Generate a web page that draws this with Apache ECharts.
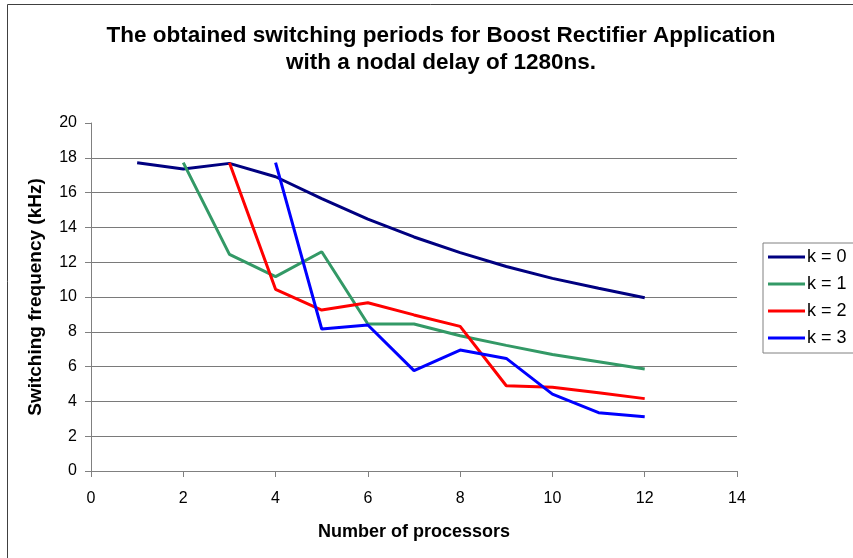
<!DOCTYPE html>
<html>
<head>
<meta charset="utf-8">
<script src="https://cdn.jsdelivr.net/npm/echarts@6/dist/echarts.min.js"></script>
<style>
  html, body { margin: 0; padding: 0; background: #fff; }
  #chart { width: 853px; height: 558px; }
</style>
</head>
<body>
<div id="chart"></div>
<script>
// Number of processors for each series
const procK0 = [1, 2, 3, 4, 5, 6, 7, 8, 9, 10, 11, 12];
const procK1 = [2, 3, 4, 5, 6, 7, 8, 9, 10, 11, 12];
const procK2 = [3, 4, 5, 6, 7, 8, 9, 10, 11, 12];
const procK3 = [4, 5, 6, 7, 8, 9, 10, 11, 12];

// Switching frequency (kHz)
const freqK0 = [17.72, 17.36, 17.68, 16.91, 15.65, 14.47, 13.45, 12.55, 11.75, 11.07, 10.5, 9.96];
const freqK1 = [17.72, 12.45, 11.17, 12.6, 8.45, 8.45, 7.77, 7.22, 6.7, 6.28, 5.86];
const freqK2 = [17.72, 10.44, 9.25, 9.67, 8.97, 8.31, 4.9, 4.81, 4.5, 4.16];
const freqK3 = [17.72, 8.16, 8.39, 5.77, 6.95, 6.47, 4.42, 3.35, 3.12];

const seriesNames = ['k = 0', 'k = 1', 'k = 2', 'k = 3'];
const seriesColors = ['#000080', '#339966', '#ff0000', '#0000ff'];

const xTicks = [0, 2, 4, 6, 8, 10, 12, 14];
const yTicks = [0, 2, 4, 6, 8, 10, 12, 14, 16, 18, 20];

const pairs = (xs, ys) => xs.map((x, i) => [x, ys[i]]);
const seriesData = [
  pairs(procK0, freqK0),
  pairs(procK1, freqK1),
  pairs(procK2, freqK2),
  pairs(procK3, freqK3)
];

const font = 'Arial, "Liberation Sans", sans-serif';

const chart = echarts.init(document.getElementById('chart'), null, { renderer: 'canvas' });

chart.setOption({
  backgroundColor: '#ffffff',
  animation: false,
  title: {
    text: 'The obtained switching periods for Boost Rectifier Application\nwith a nodal delay of 1280ns.',
    left: 436,
    top: 17,
    textAlign: 'center',
    textStyle: {
      fontFamily: font,
      fontSize: 22.5,
      fontWeight: 'bold',
      color: '#000',
      lineHeight: 27
    }
  },
  graphic: [{
    type: 'rect',
    shape: { x: 7.5, y: 4.5, width: 860, height: 570 },
    style: { fill: 'none', stroke: '#404040', lineWidth: 1 },
    silent: true,
    z: -1
  }],
  legend: {
    orient: 'vertical',
    left: 763,
    top: 243,
    itemWidth: 37,
    itemHeight: 3,
    itemGap: 9,
    padding: [5, 30, 6, 5],
    borderColor: '#808080',
    borderWidth: 1,
    borderRadius: 0,
    icon: 'rect',
    data: seriesNames,
    textStyle: { fontFamily: font, fontSize: 18, lineHeight: 18, color: '#000', padding: [0, 0, 0, -3] }
  },
  grid: {
    left: 91,
    right: 853 - 737,
    top: 123,
    bottom: 558 - 471,
    containLabel: false
  },
  xAxis: {
    type: 'value',
    min: xTicks[0],
    max: xTicks[xTicks.length - 1],
    interval: 2,
    name: 'Number of processors',
    nameLocation: 'middle',
    nameGap: 52,
    nameTextStyle: { fontFamily: font, fontSize: 18, fontWeight: 'bold', color: '#000' },
    axisLine: { lineStyle: { color: '#808080', width: 1 } },
    axisTick: { show: true, inside: false, length: 6, lineStyle: { color: '#808080' } },
    axisLabel: { fontFamily: font, fontSize: 16, color: '#000', margin: 20 },
    splitLine: { show: false }
  },
  yAxis: {
    type: 'value',
    min: yTicks[0],
    max: yTicks[yTicks.length - 1],
    interval: 2,
    name: 'Switching frequency (kHz)',
    nameLocation: 'middle',
    nameGap: 46,
    nameRotate: 90,
    nameTextStyle: { fontFamily: font, fontSize: 19, fontWeight: 'bold', color: '#000' },
    axisLine: { show: true, lineStyle: { color: '#808080', width: 1 } },
    axisTick: { show: true, inside: false, length: 6, lineStyle: { color: '#808080' } },
    axisLabel: { fontFamily: font, fontSize: 16, color: '#000', margin: 14 },
    splitLine: {
      show: true,
      showMaxLine: false,
      lineStyle: { color: '#7a7a7a', width: 1 }
    }
  },
  series: seriesData.map((d, i) => ({
    name: seriesNames[i],
    type: 'line',
    data: d,
    showSymbol: false,
    symbol: 'none',
    lineStyle: { color: seriesColors[i], width: 3 },
    itemStyle: { color: seriesColors[i] },
    z: 2 + i
  }))
});
</script>
</body>
</html>
